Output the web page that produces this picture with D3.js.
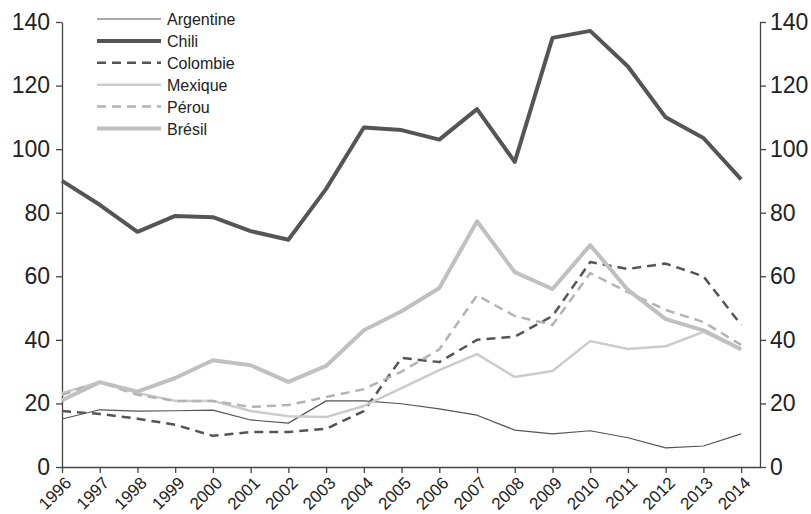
<!DOCTYPE html>
<html>
<head>
<meta charset="utf-8">
<script src="https://cdnjs.cloudflare.com/ajax/libs/d3/7.8.5/d3.min.js"></script>
<style>
  body { margin: 0; background: #fff; }
  svg { font-family: "Liberation Sans", Arial, sans-serif; }
  .axis path, .axis line { stroke: #444; stroke-width: 1.3px; }
  .axis text { fill: #222; }
</style>
</head>
<body>
<div id="chart"></div>
<script>
// years and series values
const years = d3.range(1996, 2015);
const argentine = [15.1, 18, 17.6, 17.7, 17.9, 14.8, 13.8, 20.8, 20.8, 19.9, 18.3, 16.3, 11.6, 10.4, 11.4, 9.2, 6, 6.6, 10.4];
const chili = [90, 82.5, 74, 79, 78.6, 74.2, 71.5, 87.5, 106.8, 106, 103, 112.6, 96, 135, 137.2, 126, 110, 103.5, 90.5];
const colombie = [17.6, 16.7, 15.2, 13.3, 9.8, 11, 11, 12, 17.6, 34.3, 33, 40, 41, 47.5, 64.5, 62.3, 64, 60, 44.7];
const mexique = [23.3, 26.7, 23.3, 20.8, 20.8, 17.6, 16, 15.7, 19.2, 24.8, 30.5, 35.5, 28.3, 30.2, 39.6, 37.1, 38, 42.5, 37];
const perou = [22.7, 26.7, 22.7, 20.8, 20.8, 18.9, 19.5, 22, 24.5, 30, 37, 54, 47.5, 44.7, 61, 55, 49.4, 45.6, 38.4];
const bresil = [21, 26.7, 23.7, 28, 33.6, 32, 26.8, 31.8, 43, 49, 56.3, 77.3, 61.3, 56, 69.8, 55.7, 46.5, 43, 37];
const yTicks = [0, 20, 40, 60, 80, 100, 120, 140];

// drawing order and styles
const series = [
    {name: "Argentine", values: argentine, color: "#555", width: 1.2, dash: null},
    {name: "Chili", values: chili, color: "#555", width: 4, dash: null},
    {name: "Colombie", values: colombie, color: "#555", width: 2.5, dash: "9,6"},
    {name: "Mexique", values: mexique, color: "#cbcbcb", width: 2.5, dash: null},
    {name: "Pérou", values: perou, color: "#b3b3b3", width: 2.5, dash: "9,6"},
    {name: "Brésil", values: bresil, color: "#c0c0c0", width: 4, dash: null}
];

const width = 811, height = 514;
const margin = {top: 22, right: 51, bottom: 47, left: 62};
const innerW = width - margin.left - margin.right;
const innerH = height - margin.top - margin.bottom;

const svg = d3.select("#chart").append("svg")
    .attr("width", width)
    .attr("height", height);

const g = svg.append("g")
    .attr("transform", `translate(${margin.left},${margin.top})`);

const x = d3.scaleLinear()
    .domain([1996, 2014.5])
    .range([0, innerW]);

const y = d3.scaleLinear()
    .domain([0, 140])
    .range([innerH, 0]);

// axes
g.append("g")
    .attr("class", "axis")
    .call(d3.axisLeft(y).tickValues(yTicks).tickSize(6).tickPadding(6).tickSizeOuter(0))
    .selectAll("text").style("font-size", "23px");

g.append("g")
    .attr("class", "axis")
    .attr("transform", `translate(${innerW},0)`)
    .call(d3.axisRight(y).tickValues(yTicks).tickSize(6).tickPadding(4).tickSizeOuter(0))
    .selectAll("text").style("font-size", "23px");

const xAxis = g.append("g")
    .attr("class", "axis")
    .attr("transform", `translate(0,${innerH})`)
    .call(d3.axisBottom(x).tickValues(years).tickFormat(d3.format("d")).tickSize(6).tickSizeOuter(0));

// rotated year labels, end of text just below the tick
xAxis.selectAll("text")
    .style("font-size", "17px")
    .attr("text-anchor", "end")
    .attr("y", 0)
    .attr("dx", 0)
    .attr("dy", 0)
    .attr("transform", "translate(10,17) rotate(-45)");

// lines
const line = d3.line()
    .x((d, i) => x(years[i]))
    .y(d => y(d));

g.selectAll(".series")
    .data(series)
    .enter().append("path")
    .attr("class", "series")
    .attr("d", d => line(d.values))
    .attr("fill", "none")
    .attr("stroke", d => d.color)
    .attr("stroke-width", d => d.width)
    .attr("stroke-dasharray", d => d.dash)
    .attr("stroke-linejoin", "round");

// legend
const legend = svg.append("g")
    .attr("transform", "translate(97,19)");

const rows = legend.selectAll(".row")
    .data(series)
    .enter().append("g")
    .attr("class", "row")
    .attr("transform", (d, i) => `translate(0,${i * 21.9})`);

rows.append("line")
    .attr("x1", 0)
    .attr("x2", 64)
    .attr("stroke", d => d.color)
    .attr("stroke-width", d => d.width)
    .attr("stroke-dasharray", d => d.dash);

rows.append("text")
    .attr("x", 70)
    .attr("y", 6)
    .style("font-size", "16px")
    .attr("fill", "#222")
    .text(d => d.name);
</script>
</body>
</html>
